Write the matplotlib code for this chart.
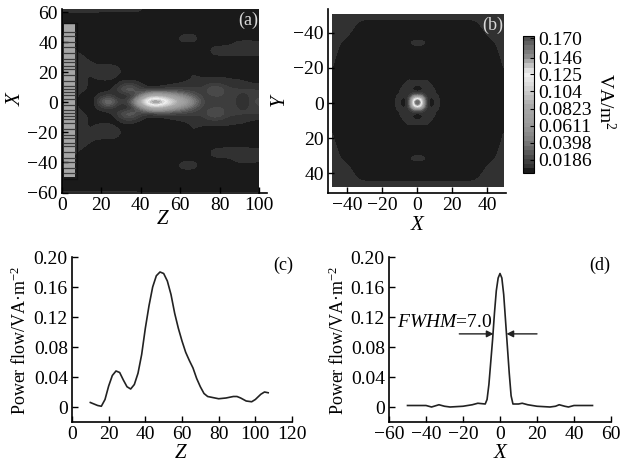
import numpy as np
import matplotlib
matplotlib.use('Agg')
import matplotlib.pyplot as plt
from matplotlib.colors import LinearSegmentedColormap, Normalize
from matplotlib.cm import ScalarMappable

plt.rcParams['font.family'] = ['Liberation Serif', 'DejaVu Serif']
plt.rcParams['mathtext.fontset'] = 'custom'
plt.rcParams['mathtext.rm'] = 'Liberation Serif'
plt.rcParams['mathtext.it'] = 'Liberation Serif:italic'
plt.rcParams['axes.unicode_minus'] = True

# panel (a): power flow in the X-Z plane, 0.001 VA/m2, upper half X = 0, 4, ... 64
field_a = [
    [6, 6, 6, 3, 1, 30, 50, 22, 14, 42, 110, 160, 172, 150, 118, 90, 68, 42, 16, 13, 13, 18, 12, 3, 14, 24],
    [6, 6, 6, 5, 3, 8, 14, 3, 1, 10, 35, 78, 90, 80, 65, 50, 36, 22, 13, 16, 18, 13, 13, 9, 13, 14],
    [6, 6, 6, 6, 5, 3, 3, 14, 32, 32, 16, 8, 10, 12, 14, 14, 13, 13, 13, 28, 26, 14, 13, 13, 13, 12],
    [6, 6, 6, 6, 5, 3, 2, 3, 12, 12, 5, 2, 2, 3, 5, 6, 7, 8, 9, 11, 11, 8, 8, 7, 6, 5],
    [6, 6, 6, 6, 5, 8, 9, 4, 2, 2, 2, 2, 1, 1, 1, 3, 5, 6, 6, 6, 6, 6, 5, 5, 3, 2],
    [6, 6, 6, 6, 6, 11, 12, 9, 4, 2, 2, 2, 1, 1, 1, 2, 6, 6, 2, 2, 2, 2, 2, 2, 2, 2],
    [6, 6, 6, 6, 6, 7, 7, 6, 2, 2, 2, 1, 1, 1, 1, 1, 1, 1, 2, 2, 2, 2, 2, 2, 2, 2],
    [6, 6, 6, 6, 6, 2, 2, 2, 2, 1, 1, 1, 1, 1, 1, 1, 1, 1, 1, 2, 2, 2, 2, 2, 2, 2],
    [6, 6, 6, 6, 2, 2, 2, 2, 1, 1, 1, 1, 1, 1, 1, 1, 1, 1, 2, 7, 8, 9, 9, 9, 8, 8],
    [6, 6, 6, 2, 2, 2, 2, 1, 1, 1, 1, 1, 1, 1, 1, 1, 1, 2, 2, 7, 8, 8, 9, 9, 9, 8],
    [6, 6, 3, 2, 2, 2, 2, 1, 1, 1, 1, 1, 1, 1, 2, 7, 7, 7, 2, 2, 2, 2, 6, 7, 7, 6],
    [6, 5, 2, 2, 2, 2, 1, 1, 1, 1, 1, 1, 1, 1, 2, 7, 8, 7, 2, 2, 2, 2, 2, 2, 2, 2],
    [6, 3, 2, 2, 2, 2, 1, 1, 1, 1, 1, 1, 1, 1, 2, 2, 2, 2, 2, 2, 2, 2, 2, 2, 2, 2],
    [3, 2, 2, 2, 2, 2, 1, 1, 1, 1, 1, 1, 1, 1, 6, 6, 1, 1, 2, 2, 2, 2, 2, 2, 2, 2],
    [3, 2, 2, 2, 2, 2, 1, 1, 1, 1, 1, 1, 1, 1, 1, 1, 1, 1, 2, 6, 7, 2, 2, 2, 2, 2],
    [7, 7, 7, 7, 7, 7, 7, 7, 7, 7, 7, 3, 3, 3, 3, 3, 3, 3, 3, 3, 3, 3, 3, 3, 3, 3],
    [7, 7, 7, 7, 7, 7, 7, 7, 7, 7, 7, 3, 3, 3, 3, 3, 3, 3, 3, 3, 3, 3, 3, 3, 3, 3],
]

# aperture comb at the left of panel (a), stripe positions in X
comb_stripes = [2, 5, 7, 9, 11, 14, 18, 22, 24, 27, 29, 33, 37, 40, 44, 47]

# panel (b): outer field, quarter Y, X = 0, 5, ... 50 in 0.001 VA/m2
field_b_outer = [
    [2, 2, 2, 2, 2, 2, 2, 2, 2, 2, 3],
    [2, 2, 2, 2, 2, 2, 2, 9, 2, 2, 3],
    [2, 2, 2, 2, 2, 2, 2, 2, 2, 2, 3],
    [2, 2, 2, 2, 2, 2, 2, 2, 2, 2, 5],
    [2, 2, 2, 2, 2, 2, 2, 2, 2, 2, 6],
    [2, 2, 2, 2, 6, 2, 2, 2, 2, 2, 6],
    [2, 2, 2, 2, 2, 2, 2, 2, 2, 3, 7],
    [9, 8, 2, 2, 2, 2, 2, 2, 2, 5, 7],
    [2, 2, 2, 2, 2, 2, 2, 2, 5, 8, 7],
    [2, 2, 2, 2, 2, 2, 2, 4, 7, 7, 7],
    [7, 7, 7, 7, 7, 7, 7, 7, 7, 10, 10],
]

# panel (b): centre of the spot, quarter Y, X = 0, 2, ... 18 in 0.001 VA/m2
field_b_centre = [
    [175, 150, 45, 5, 2, 7, 7, 3, 2, 2],
    [150, 125, 38, 6, 5, 7, 7, 3, 2, 2],
    [40, 35, 16, 7, 7, 7, 7, 2, 2, 2],
    [5, 6, 7, 7, 7, 7, 3, 2, 2, 2],
    [2, 5, 7, 7, 7, 6, 2, 2, 2, 2],
    [7, 7, 7, 7, 7, 3, 2, 2, 2, 2],
    [7, 7, 7, 7, 4, 2, 2, 2, 2, 2],
    [3, 3, 5, 4, 2, 2, 2, 2, 2, 2],
    [2, 2, 2, 2, 2, 2, 2, 2, 2, 2],
    [2, 2, 2, 2, 2, 2, 2, 2, 2, 2],
]

cbar_ticks = [0.170, 0.146, 0.125, 0.104, 0.0823, 0.0611, 0.0398, 0.0186]
cbar_labels = ['0.170', '0.146', '0.125', '0.104', '0.0823', '0.0611', '0.0398', '0.0186']

# panel (c)
z_c = [10, 12, 14, 16, 18, 20, 22, 24, 26, 28, 30, 32, 34, 36, 38, 40, 42, 44, 46, 48, 50, 52, 54, 56,
       58, 60, 62, 64, 66, 68, 70, 72, 74, 76, 78, 80, 84, 88, 90, 92, 95, 98, 100, 103, 105, 107]
flow_c = [.006, .004, .002, .001, .01, .028, .042, .048, .046, .036, .027, .024, .03, .045, .07, .105,
          .135, .16, .175, .18, .178, .168, .15, .125, .105, .088, .073, .062, .052, .038, .027, .018,
          .014, .013, .012, .011, .012, .014, .014, .012, .008, .007, .01, .017, .02, .019]

# panel (d)
x_d = [-50, -40, -37, -33, -30, -27, -20, -15, -12, -8, -7, -6, -5, -4, -3, -2, -1, 0, 1, 2, 3, 4, 5, 6,
       7, 10, 12, 15, 20, 27, 30, 32, 35, 37, 40, 50]
flow_d = [.002, .002, 0, .003, .001, 0, .001, .003, .005, .004, .01, .03, .06, .09, .125, .155, .172, .178,
          .172, .15, .115, .08, .045, .015, .004, .004, .005, .003, .001, 0, .001, .003, .001, 0, .002, .002]

W, H = 621, 461
gray_map = LinearSegmentedColormap.from_list('gray_bands', [
    (0.0, '#1a1a1a'), (0.02, '#1a1a1a'), (0.03, '#303030'), (0.11, '#4c4c4c'), (0.235, '#808080'),
    (0.36, '#9c9c9c'), (0.48, '#a8a8a8'), (0.61, '#cfcfcf'), (0.735, '#f2f2f2'),
    (0.86, '#8c8c8c'), (1.0, '#505050')], N=30)
norm = Normalize(0, 0.17)


def px_axes(left, right, top, bottom):
    return fig.add_axes([left / W, 1 - bottom / H, (right - left) / W, (bottom - top) / H])


def style(ax, size=14):
    for side in ['top', 'right']:
        ax.spines[side].set_visible(False)
    for side in ['left', 'bottom']:
        ax.spines[side].set_linewidth(1.2)
    ax.tick_params(direction='in', length=4, width=1, labelsize=size, pad=3)


def mirror_rows(rows):
    a = np.array(rows, dtype=float) / 1000
    return np.vstack([a[:0:-1], a])


def mirror_both(rows):
    a = mirror_rows(rows)
    return np.hstack([a[:, :0:-1], a])


# text placed in pixels as in the figure
def label(x, y, s, rotation=0, size=15, style_='normal', color='black'):
    fig.text(x / W, 1 - y / H, s, ha='center', va='center', rotation=rotation, fontsize=size,
             fontstyle=style_, color=color, zorder=5)


fig = plt.figure(figsize=(W / 100, H / 100), dpi=100)

# (a)
ax = px_axes(62, 259, 9, 192.5)
ax.imshow(mirror_rows(field_a), extent=[-2, 102, -66, 66], origin='lower', cmap=gray_map, norm=norm,
          aspect='auto', interpolation='bicubic', interpolation_stage='data')
ax.fill_between([0.8, 6.5], -50, 52, color='#a6a6a6', lw=0)
ax.plot([0.8, 7.5, 7.5, 0.8], [53, 53, -51, -51], color='#101010', lw=1)
for s in comb_stripes:
    ax.plot([0.8, 6.5], [s, s], color='#3c3c3c', lw=0.9)
    ax.plot([0.8, 6.5], [-s, -s], color='#3c3c3c', lw=0.9)
ax.set_xlim(0, 100)
ax.set_ylim(-60, 62.3)
ax.set_xticks([0, 20, 40, 60, 80, 100])
ax.set_yticks([-60, -40, -20, 0, 20, 40, 60])
style(ax)
ax.plot([1, 1.04], [0, 0], transform=ax.transAxes, color='black', lw=1.2, clip_on=False)

# (b)
ax = px_axes(328, 506, 9, 193)
ax.imshow(mirror_both(field_b_outer), extent=[-48.6, 49.7, 48, -50.3], cmap=gray_map, norm=norm,
          aspect='auto', interpolation='bicubic', interpolation_stage='data')
ax.imshow(mirror_both(field_b_centre), extent=[-19, 19, 19, -19], cmap=gray_map, norm=norm,
          aspect='auto', interpolation='bicubic', interpolation_stage='data')
ax.set_xlim(-50.9, 50.9)
ax.set_ylim(51.4, -53.7)
ax.set_xticks([-40, -20, 0, 20, 40])
ax.set_yticks([-40, -20, 0, 20, 40])
style(ax)

# colorbar
cax = px_axes(523, 534, 36, 173)
cb = fig.colorbar(ScalarMappable(norm=Normalize(0.002, 0.173), cmap=gray_map), cax=cax)
cb.set_ticks(cbar_ticks)
cb.set_ticklabels(cbar_labels)
cb.ax.tick_params(direction='in', length=3, width=0.8, labelsize=14, pad=3)
cb.outline.set_linewidth(0.8)

# (c)
ax = px_axes(72, 292, 257, 422)
ax.plot(z_c, flow_c, color='#222222', lw=1.2)
ax.set_xlim(0, 120)
ax.set_ylim(-0.02, 0.20)
ax.set_xticks([0, 20, 40, 60, 80, 100, 120])
ax.set_yticks([0, 0.04, 0.08, 0.12, 0.16, 0.20])
ax.set_yticklabels(['0', '0.04', '0.08', '0.12', '0.16', '0.20'])
style(ax)

# (d)
ax = px_axes(389, 611, 257, 422)
ax.plot(x_d, flow_d, color='#222222', lw=1.2)
ax.set_xlim(-60, 60)
ax.set_ylim(-0.02, 0.20)
ax.set_xticks([-60, -40, -20, 0, 20, 40, 60])
ax.set_yticks([0, 0.04, 0.08, 0.12, 0.16, 0.20])
ax.set_yticklabels(['0', '0.04', '0.08', '0.12', '0.16', '0.20'])
style(ax)
ax.annotate('', xy=(-3.5, 0.0975), xytext=(-22, 0.0975),
            arrowprops=dict(arrowstyle='-|>', color='#222222', lw=1, shrinkA=0, shrinkB=0))
ax.annotate('', xy=(3.5, 0.0975), xytext=(20, 0.0975),
            arrowprops=dict(arrowstyle='-|>', color='#222222', lw=1, shrinkA=0, shrinkB=0))

label(248, 20, '(a)', size=13, color='#d8d8d8')
label(493, 25, '(b)', size=13, color='#d8d8d8')
label(283, 265, '(c)', size=13)
label(600, 265, '(d)', size=13)
label(445, 322, r'$\mathit{FWHM}$=7.0', size=14)
label(163, 219, 'Z', style_='italic')
label(417, 226, 'X', style_='italic')
label(181, 453, 'Z', style_='italic')
label(500, 453, 'X', style_='italic')
label(16, 100, 'X', rotation=90, style_='italic')
label(279, 100, 'Y', rotation=90, style_='italic')
label(20, 340, 'Power flow/VA·m$^{-2}$', rotation=90, size=13)
label(338, 340, 'Power flow/VA·m$^{-2}$', rotation=90, size=13)
label(605, 102, 'VA/m$^{2}$', rotation=-90, size=14)

fig.savefig('out.png', dpi=100)
